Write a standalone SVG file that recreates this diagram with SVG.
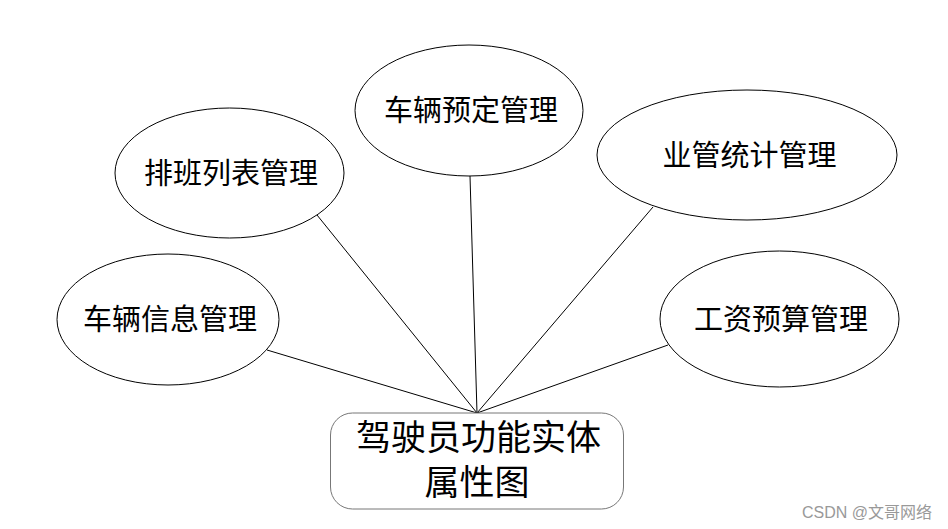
<svg xmlns="http://www.w3.org/2000/svg" width="948" height="529" viewBox="0 0 948 529">
<style>
.e{fill:#fff;stroke:#000;stroke-width:1}
.t{font-family:"Liberation Serif","Noto Sans CJK SC",serif;font-size:29px;fill:#000;text-anchor:middle;dominant-baseline:central}
.b{font-size:35px}
.c line{stroke:#000;stroke-width:1}
</style>
<rect width="948" height="529" fill="#fff"/>
<g class="c" id="connectors">
<line x1="470" y1="176" x2="477" y2="413"/>
<line x1="317" y1="215" x2="477" y2="413"/>
<line x1="653" y1="207" x2="477" y2="413"/>
<line x1="267" y1="350" x2="477" y2="413"/>
<line x1="668" y1="345" x2="477" y2="413"/>
</g>
<g id="n1"><ellipse class="e" cx="469" cy="110.5" rx="114" ry="65.5"/><text class="t" x="471" y="111">车辆预定管理</text></g>
<g id="n2"><ellipse class="e" cx="229.5" cy="173" rx="114.5" ry="65"/><text class="t" x="231" y="174">排班列表管理</text></g>
<g id="n3"><ellipse class="e" cx="747" cy="155" rx="150" ry="65"/><text class="t" x="749.5" y="156">业管统计管理</text></g>
<g id="n4"><ellipse class="e" cx="168" cy="319.5" rx="111" ry="65.5"/><text class="t" x="170" y="319.5">车辆信息管理</text></g>
<g id="n5"><ellipse class="e" cx="779.5" cy="319" rx="119.5" ry="68"/><text class="t" x="781" y="320">工资预算管理</text></g>
<g id="center"><rect x="330.5" y="413" width="293" height="96" rx="22" ry="22" fill="#fff" stroke="#777" stroke-width="1"/><text class="t b" x="478.5" y="438">驾驶员功能实体</text><text class="t b" x="477" y="483">属性图</text></g>
<text x="932" y="512" font-family="'Liberation Sans','Noto Sans CJK SC',sans-serif" font-size="16" fill="#999" text-anchor="end" dominant-baseline="central">CSDN @文哥网络</text>
</svg>
